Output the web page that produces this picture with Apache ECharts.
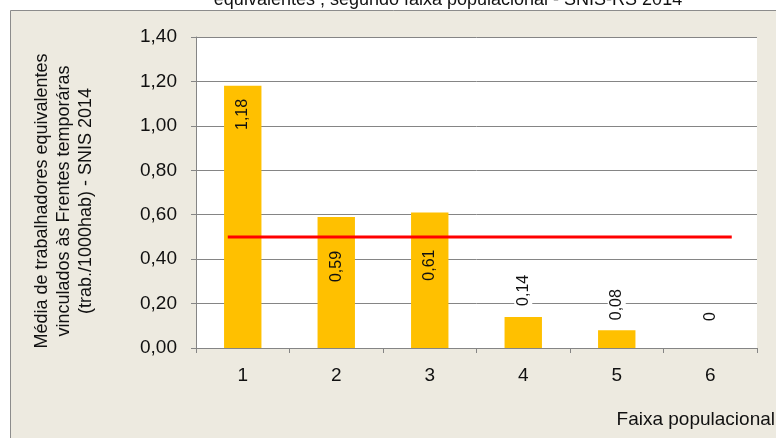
<!DOCTYPE html>
<html>
<head>
<meta charset="utf-8">
<script src="https://cdn.jsdelivr.net/npm/echarts@6/dist/echarts.min.js"></script>
<style>
  html, body { margin: 0; padding: 0; background: #fff; }
  #chart { width: 776px; height: 438px; }
</style>
</head>
<body>
<div id="chart"></div>
<script>
const faixas = ['1', '2', '3', '4', '5', '6'];
const mediaTrabalhadores = [1.18, 0.59, 0.61, 0.14, 0.08, 0];
const mediaGeral = 0.5;
const mediaGeralSpan = [0.84, 6.23]; // where the red line starts/ends, in category units
const yMin = 0, yMax = 1.4, yStep = 0.2;

const titleText = 'equivalentes , segundo faixa populacional - SNIS-RS 2014';
const yNameLines = [
  'Média de trabalhadores equivalentes',
  'vinculados às Frentes temporáras',
  '(trab./1000hab) - SNIS 2014'
];
const xNameText = 'Faixa populacional';

const FONT = "'Liberation Sans', Arial, sans-serif";
const GREY = '#858585';

// where each value label sits (Excel had them nudged by hand)
const labelPlacement = [
  { position: 'insideTop', distance: 11, align: 'right' },
  { position: 'insideTop', distance: 32, align: 'right' },
  { position: 'insideTop', distance: 35, align: 'right' },
  { position: 'top', distance: 9, align: 'left', backgroundColor: '#fff' },
  { position: 'top', distance: 8, align: 'left', backgroundColor: '#fff' },
  { position: 'top', distance: 25, align: 'left', backgroundColor: '#fff' }
];

const fmt = v => v === 0 ? '0' : v.toFixed(2).replace('.', ',');

const barData = mediaTrabalhadores.map((v, i) => ({
  value: v,
  label: Object.assign({ padding: [1, 2] }, labelPlacement[i])
}));

const chart = echarts.init(document.getElementById('chart'));

chart.setOption({
  animation: false,
  backgroundColor: '#fff',
  textStyle: { fontFamily: FONT },
  graphic: [
    {
      type: 'rect', z: -100,
      shape: { x: 10.5, y: 10.5, width: 800, height: 500 },
      style: { fill: '#EDEAE0', stroke: '#8c8c8c', lineWidth: 1 }
    },
    {
      type: 'text', x: 448, y: 9,
      style: { text: titleText, font: '18px ' + FONT, fill: '#111', align: 'center', verticalAlign: 'bottom' }
    },
    {
      type: 'text', x: 64, y: 201, rotation: Math.PI / 2,
      style: {
        text: yNameLines.join('\n'), font: '18px ' + FONT, lineHeight: 22,
        fill: '#111', align: 'center', verticalAlign: 'middle'
      }
    },
    {
      type: 'text', x: 775, y: 420,
      style: { text: xNameText, font: '19px ' + FONT, fill: '#111', align: 'right', verticalAlign: 'middle' }
    }
  ],
  grid: {
    left: 196, right: 19, top: 37, bottom: 90,
    show: true, backgroundColor: '#fff', borderWidth: 0
  },
  xAxis: [
    {
      type: 'category',
      data: faixas,
      axisLine: { lineStyle: { color: GREY } },
      axisTick: { show: true, length: 5, lineStyle: { color: GREY } },
      axisLabel: { fontSize: 19, color: '#111', margin: 18 }
    },
    { type: 'value', min: 0.5, max: 6.5, show: false }
  ],
  yAxis: {
    type: 'value',
    min: yMin, max: yMax, interval: yStep,
    axisLine: { show: true, lineStyle: { color: GREY } },
    axisTick: { show: true, length: 5, lineStyle: { color: GREY } },
    axisLabel: { fontSize: 19, color: '#111', margin: 19, formatter: v => v.toFixed(2).replace('.', ',') },
    splitLine: { lineStyle: { color: GREY } }
  },
  series: [
    {
      type: 'bar',
      data: barData,
      barWidth: '40%',
      itemStyle: { color: '#FFC000' },
      label: {
        show: true, rotate: 90, verticalAlign: 'middle',
        fontSize: 16, color: '#111',
        formatter: p => fmt(p.value)
      }
    },
    {
      type: 'line',
      xAxisIndex: 1,
      data: mediaGeralSpan.map(x => [x, mediaGeral]),
      showSymbol: false,
      lineStyle: { color: '#FF0000', width: 3 },
      z: 5
    }
  ]
});
</script>
</body>
</html>
